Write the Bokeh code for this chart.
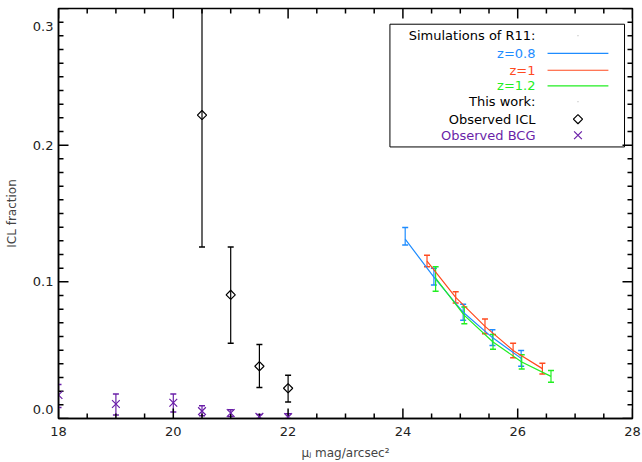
from bokeh.plotting import figure
from bokeh.models import (ColumnDataSource, Whisker, TeeHead, FixedTicker,
                          Range1d, PrintfTickFormatter, BoxAnnotation)
from bokeh.core.properties import value
from bokeh.embed import file_html
from bokeh.resources import INLINE

# ---------------- data ----------------
icl_x = [20.5, 21.0, 21.5, 22.0]
icl_y = [0.222, 0.0905, 0.0382, 0.0221]
icl_lo = [0.1255, 0.0551, 0.0226, 0.0121]
icl_hi = [0.330, 0.1255, 0.0542, 0.0316]

bcg_x = [18.0, 19.0, 20.0, 20.5, 21.0, 21.5, 22.0]
bcg_y = [0.0172, 0.0106, 0.0115, 0.0054, 0.0040, 0.0012, 0.0010]
bcg_lo = [0.0081, 0.0025, 0.0047, 0.0020, 0.0015, 0.0000, 0.0000]
bcg_hi = [0.0248, 0.0180, 0.0180, 0.0093, 0.0064, 0.0030, 0.0035]

z08_x = [24.04, 24.54, 25.05, 25.56, 26.06]
z08_y = [0.1312, 0.1035, 0.0777, 0.0592, 0.0440]
z08_lo = [0.1270, 0.0976, 0.0718, 0.0535, 0.0382]
z08_hi = [0.1397, 0.1099, 0.0836, 0.0650, 0.0498]

z1_x = [24.42, 24.92, 25.43, 25.92, 26.43]
z1_y = [0.1152, 0.0886, 0.0674, 0.0498, 0.0365]
z1_lo = [0.1110, 0.0846, 0.0620, 0.0444, 0.0326]
z1_hi = [0.1194, 0.0927, 0.0728, 0.0551, 0.0404]

z12_x = [24.57, 25.07, 25.57, 26.07, 26.58]
z12_y = [0.1027, 0.0755, 0.0560, 0.0414, 0.0308]
z12_lo = [0.0932, 0.0694, 0.0507, 0.0363, 0.0265]
z12_hi = [0.1110, 0.0816, 0.0615, 0.0466, 0.0351]

x_ticks = [18, 20, 22, 24, 26, 28]
y_ticks = [0.0, 0.1, 0.2, 0.3]
y_tick_labels = {0.0: "0.0\n", 0.1: "0.1", 0.2: "0.2", 0.3: "\n0.3"}
x_minor = [18 + 0.5 * i for i in range(21)]
y_minor = [round(0.01 * i, 2) for i in range(31)]

legend_labels = ["Simulations of R11:", "z=0.8", "z=1", "z=1.2", "This work:", "Observed ICL", "Observed BCG"]

# ---------------- style ----------------
FONT = "DejaVu Sans"
BLUE = "#1E8CFF"
RED = "#FF4A1F"
GREEN = "#22EE22"
PURPLE = "#6A1FA8"
BLACK = "#000000"
X0, X1, Y0, Y1 = 18, 28, 0.0, 0.3
W, H = 642, 462
BL, BR, BT, BB = 58, 10, 8, 44
PX_X = (X1 - X0) / (W - BL - BR)   # data units per pixel, x
PX_Y = (Y1 - Y0) / (H - BT - BB)   # data units per pixel, y

p = figure(width=W, height=H, output_backend="svg", toolbar_location=None,
           x_range=Range1d(X0, X1), y_range=Range1d(Y0, Y1),
           min_border_left=BL, min_border_right=BR, min_border_top=BT, min_border_bottom=BB)
p.background_fill_color = "white"
p.border_fill_color = "white"
p.outline_line_color = "black"
p.outline_line_alpha = 1.0
p.outline_line_width = 1.5
p.xgrid.visible = False
p.ygrid.visible = False


def style_axis(ax, ticks):
    ax.ticker = FixedTicker(ticks=ticks, minor_ticks=[])
    ax.major_tick_in = 0
    ax.major_tick_out = 0
    ax.minor_tick_in = 0
    ax.minor_tick_out = 0
    ax.axis_line_color = "black"
    ax.axis_line_width = 1.5
    ax.major_label_text_font = FONT
    ax.major_label_text_color = "#222222"
    ax.major_label_text_font_size = "13px"
    ax.axis_label_text_font = FONT
    ax.axis_label_text_font_style = "normal"
    ax.axis_label_text_font_size = "12px"


xa = p.xaxis[0]
style_axis(xa, x_ticks)
xa.major_label_standoff = 8
xa.axis_label = "μⱼ mag/arcsec²"
xa.axis_label_standoff = 7

ya = p.yaxis[0]
style_axis(ya, y_ticks)
ya.formatter = PrintfTickFormatter(format="%.1f")
ya.major_label_overrides = y_tick_labels
ya.major_label_standoff = 5
ya.axis_label = "ICL fraction"
ya.axis_label_standoff = 11

# inward ticks on all four sides, built from the tick lists
def tick_segments(positions, along, length_px):
    n = len(positions)
    if along == "x":
        L = length_px * PX_Y
        x0 = positions + positions
        x1 = positions + positions
        y0 = [Y0] * n + [Y1] * n
        y1 = [Y0 + L] * n + [Y1 - L] * n
    else:
        L = length_px * PX_X
        x0 = [X0] * n + [X1] * n
        x1 = [X0 + L] * n + [X1 - L] * n
        y0 = positions + positions
        y1 = positions + positions
    p.segment(x0=x0, y0=y0, x1=x1, y1=y1, line_color="black", line_width=1.5)


tick_segments([float(t) for t in x_ticks], "x", 10)
tick_segments([t for t in x_minor if t not in x_ticks], "x", 5)
tick_segments(list(y_ticks), "y", 10)
tick_segments([t for t in y_minor if t not in y_ticks], "y", 5)

# ---------------- series ----------------
def add_series(xs, ys, lo, hi, color, line=True, marker=None, cap=7, msize=9, angle=0.0):
    src = ColumnDataSource(dict(x=xs, y=ys, lo=lo, hi=hi))
    if line:
        p.line("x", "y", source=src, line_color=color, line_width=1.2)
    w = Whisker(source=src, base="x", upper="hi", lower="lo", line_color=color, line_width=1.2,
                upper_head=TeeHead(size=cap, line_color=color, line_width=1.5),
                lower_head=TeeHead(size=cap, line_color=color, line_width=1.5))
    p.add_layout(w)
    if marker is not None:
        p.scatter("x", "y", source=src, marker=marker, size=msize, angle=angle, line_color=color,
                  fill_color=None, line_width=1.2)


add_series(z08_x, z08_y, z08_lo, z08_hi, BLUE, cap=6)
add_series(z1_x, z1_y, z1_lo, z1_hi, RED, cap=6)
add_series(z12_x, z12_y, z12_lo, z12_hi, GREEN, cap=6)
add_series(icl_x, icl_y, icl_lo, icl_hi, BLACK, line=False, marker="square", cap=6, msize=6.5, angle=0.785398)
add_series(bcg_x, bcg_y, bcg_lo, bcg_hi, PURPLE, line=False, marker="x", cap=6, msize=11)

# ---------------- legend (drawn by hand, label left / symbol right) ----------------
box = BoxAnnotation(left=23.774, right=27.861, top=0.2885, bottom=0.1987,
                    fill_color="white", fill_alpha=1.0, line_color="black", line_alpha=1.0,
                    line_width=1, level="underlay")
p.add_layout(box)

row_y = [0.2800, 0.2671, 0.2548, 0.2434, 0.2317, 0.2190, 0.2073]
label_colors = [BLACK, BLUE, RED, GREEN, BLACK, BLACK, PURPLE]
text_x = 26.31
sym_x = 27.05

p.text(x=[text_x] * len(legend_labels), y=row_y, text=legend_labels,
       text_color=label_colors, text_align="right", text_baseline="middle",
       text_font=value(FONT), text_font_size="13px")
p.segment(x0=[26.52] * 3, y0=row_y[1:4], x1=[27.58] * 3, y1=row_y[1:4],
          line_color=[BLUE, RED, GREEN], line_width=1.2)
p.scatter(x=[sym_x, sym_x], y=[row_y[0], row_y[4]], marker="dot", size=3, color="black")
p.scatter(x=[sym_x], y=[row_y[5]], marker="square", size=6.5, angle=0.785398, line_color="black",
          fill_color=None, line_width=1.2)
p.scatter(x=[sym_x], y=[row_y[6]], marker="x", size=11, line_color=PURPLE, line_width=1.2)

open("out.html", "w").write(file_html(p, INLINE))
